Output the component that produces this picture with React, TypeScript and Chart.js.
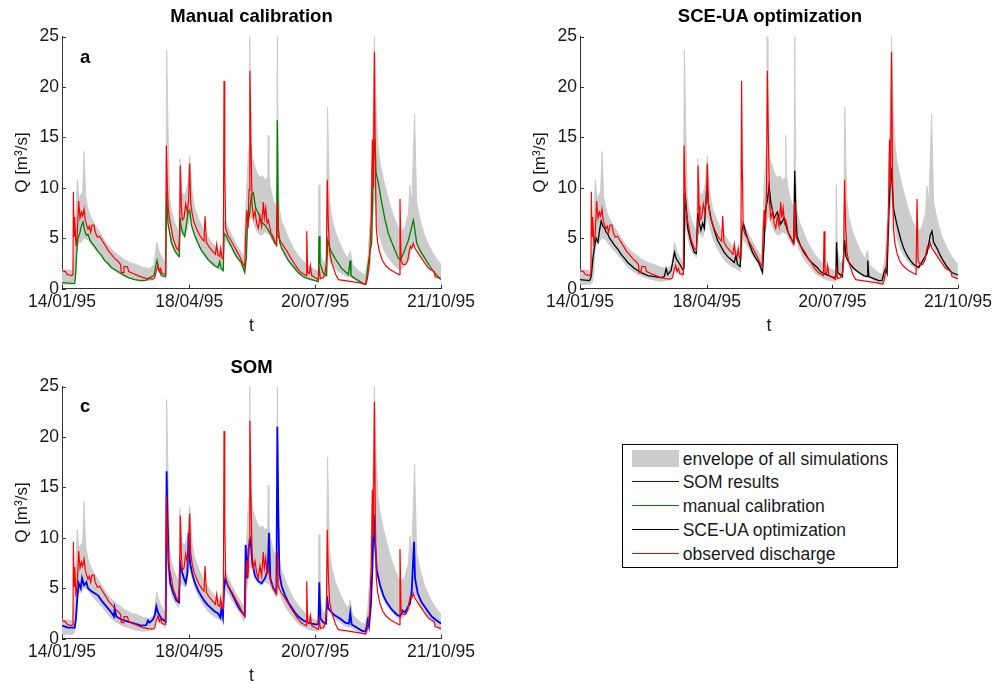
import React, { useEffect, useRef } from 'react';
import { Chart, registerables } from 'chart.js';
Chart.register(...registerables);

// x axis: days since 14/01/95
const tickDays = [0, 94, 187, 280];
const tickLabels = ['14/01/95', '18/04/95', '20/07/95', '21/10/95'];
const yTicks = [0, 5, 10, 15, 20, 25];

const legendLabels = ['envelope of all simulations', 'SOM results', 'manual calibration', 'SCE-UA optimization', 'observed discharge'];
const legendColors = ['#cccccc', '#0000ff', '#008000', '#000000', '#ff0000'];

// observed discharge [day, Q]
const observed: number[][] = [
  [0, 1.8], [2.5, 1.7], [4, 1.4], [7, 1.3], [8.1, 1.4], [8.4, 9.6], [8.9, 5.2], [9.4, 7.1], [10.3, 4.2], [11.3, 5.5],
  [12.3, 8.7], [13.3, 7.0], [14.3, 7.6], [15.3, 7.2], [16.3, 7.9], [17.2, 6.8], [18.2, 6.3], [19.2, 5.9], [20.2, 6.2],
  [21.2, 5.6], [22.2, 6.3], [23.6, 6.3], [24.6, 5.6], [26.1, 5.1], [27.8, 5.2], [29.1, 4.9], [31, 4.5], [32.8, 4.1],
  [34.5, 3.7], [36.5, 3.4], [38.9, 3.0], [41.4, 2.7], [43.3, 2.4], [43.8, 1.6], [45.1, 1.6], [45.8, 2.2], [48.3, 2.2],
  [49.3, 1.7], [52.5, 1.5], [56.2, 1.3], [59.9, 1.1], [63.5, 1.0], [67.2, 0.95], [68.5, 1.1], [69.7, 1.8], [70.9, 2.3],
  [71.9, 1.7], [72.9, 2.0], [73.9, 1.5], [76.6, 1.4], [77.1, 14.2], [77.8, 10.2], [78.6, 7.8], [79.6, 6.8], [80.8, 6.0],
  [82, 5.0], [83.3, 4.5], [84.7, 4.0], [86.2, 3.8], [86.9, 5.5], [87.4, 12.2], [88.2, 8.2], [88.9, 6.8], [90.1, 7.0],
  [91.4, 8.4], [92.6, 7.6], [93.6, 9.0], [94.3, 12.4], [95.1, 8.5], [96.1, 7.5], [97.5, 6.6], [99.3, 6.0], [101, 5.5],
  [103, 5.0], [104.9, 4.7], [105.7, 7.2], [106.7, 4.6], [108.4, 4.2], [110.8, 3.8], [113.3, 3.4], [114.3, 4.4],
  [115.3, 3.3], [116.5, 3.2], [117.2, 4.0], [118.2, 3.0], [119.2, 3.0], [119.7, 20.6], [120.2, 12.3], [120.9, 6.0],
  [122.2, 5.4], [123.9, 5.0], [126.4, 4.4], [128.8, 3.8], [131.3, 3.2], [133.3, 2.6], [135, 2.2], [135.7, 5.5],
  [136.5, 7.8], [137.4, 6.0], [138.2, 9.8], [138.8, 21.6], [139.6, 14.6], [140.4, 8.5], [141.4, 7.0], [142.6, 7.7],
  [143.8, 6.5], [145, 6.0], [146.3, 7.2], [147.5, 6.2], [148.7, 8.6], [149.5, 7.0], [150.5, 8.0], [151.5, 6.5],
  [152.4, 6.8], [153.4, 6.2], [154.4, 5.5], [155.9, 5.2], [157.4, 4.6], [158.4, 4.4], [159.1, 8.6], [159.8, 5.2],
  [161.8, 4.6], [164.3, 4.1], [166.7, 3.6], [169.2, 3.0], [171.7, 2.5], [174.1, 2.0], [176.6, 1.6], [179, 1.4],
  [180.3, 1.3], [180.8, 5.7], [181.5, 1.6], [182.7, 1.5], [183.5, 2.3], [184.5, 1.3], [186.9, 1.1], [189.4, 0.9],
  [190.1, 1.9], [190.9, 1.0], [193.1, 1.1], [194.3, 1.5], [195.3, 2.6], [196, 10.8], [196.8, 6.2], [197.8, 3.6],
  [199.2, 2.6], [200.7, 2.0], [202.2, 1.4], [204.2, 0.9], [209.1, 0.8], [214, 0.7], [219, 0.6], [222.6, 0.5],
  [224.4, 0.45], [225.6, 1.0], [227.1, 2.5], [228.5, 7.2], [229.3, 14.8], [230, 10.0], [230.8, 23.5], [231.5, 12.0],
  [232.2, 6.0], [233.2, 4.6], [234.7, 3.6], [236.7, 2.8], [239.1, 2.3], [242.3, 1.9], [246, 1.6], [249, 1.4],
  [249.7, 8.9], [250.5, 2.8], [252, 2.4], [253.9, 2.4], [255.4, 2.8], [256.4, 3.6], [257.4, 4.2], [258.4, 4.0],
  [259.6, 4.5], [260.8, 4.0], [262.8, 3.6], [265.2, 3.1], [268.2, 2.5], [271, 2.0], [275, 1.7], [275.6, 1.2], [280, 1.0],
];

// manual calibration [day, Q]
const manual: number[][] = [
  [0, 0.6], [9.4, 0.5], [10.1, 1.5], [10.8, 3.5], [11.8, 5.0], [13.1, 5.5], [14.3, 6.2], [15.5, 6.6], [16.7, 5.8],
  [18, 5.3], [19.2, 5.4], [20.4, 4.9], [21.7, 4.6], [24.1, 4.2], [26.6, 3.7], [29.1, 3.3], [31.5, 2.8], [34, 2.5],
  [36.5, 2.1], [38.9, 1.9], [43.8, 1.5], [48.8, 1.1], [53.7, 0.9], [58.6, 0.8], [62.3, 0.85], [64.8, 1.1], [68, 1.3],
  [69.2, 2.2], [70.2, 2.8], [71.4, 2.0], [73.4, 1.3], [76.6, 1.2], [77.3, 9.6], [78.3, 6.5], [79.6, 5.5], [80.8, 4.6],
  [83.3, 3.8], [85.7, 3.3], [86.7, 3.2], [87.2, 7.0], [88.2, 6.0], [89.4, 5.5], [90.6, 5.2], [91.9, 6.3], [93.1, 7.5],
  [94.3, 7.8], [95.6, 6.3], [98, 5.3], [100.5, 4.5], [103, 3.8], [105.4, 3.4], [107.9, 2.9], [110.3, 2.6], [112.8, 2.3],
  [115.3, 2.1], [116.5, 2.7], [117.7, 2.0], [119.2, 1.8], [119.7, 5.5], [121.4, 5.2], [122.7, 4.8], [125.1, 4.2],
  [127.6, 3.5], [130, 3.0], [132.5, 2.6], [135, 1.6], [136.2, 3.0], [136.9, 6.0], [138.7, 7.5], [139.9, 9.3],
  [141.4, 9.5], [143.1, 8.0], [145, 7.5], [147.5, 6.6], [150, 6.3], [152.4, 5.8], [154.9, 5.2], [157.4, 4.5],
  [158.6, 4.3], [159.1, 16.7], [159.8, 6.0], [161, 4.5], [162.3, 4.0], [164.8, 3.4], [167.2, 2.8], [169.7, 2.4],
  [172.1, 2.0], [174.6, 1.6], [177.1, 1.3], [179.5, 1.1], [184.5, 0.9], [189.4, 0.7], [189.9, 5.2], [190.6, 2.5],
  [193.1, 1.5], [195.5, 1.3], [196.3, 4.8], [198, 4.0], [199.2, 3.6], [201.7, 3.0], [204.2, 2.5], [206.6, 2.0],
  [209.1, 1.7], [211.6, 1.4], [212.8, 2.8], [213.5, 1.3], [216.5, 1.0], [219, 0.8], [222.6, 0.5], [224.4, 0.4],
  [225.8, 2.0], [227.6, 3.8], [228.8, 4.5], [230, 12.0], [231.3, 14.8], [232, 11.5], [233.7, 10.5], [236.2, 8.5],
  [238.7, 6.8], [241.1, 5.5], [243.6, 4.6], [246, 3.8], [248.5, 3.0], [250.2, 2.9], [252.2, 3.5], [255.9, 4.8],
  [259.6, 6.8], [262.1, 4.5], [264.5, 3.8], [268.2, 3.0], [271.9, 2.2], [275.6, 1.5], [280, 0.9],
];

// SCE-UA optimization [day, Q]
const sceua: number[][] = [
  [0, 0.9], [7.1, 0.8], [8.3, 1.2], [9.6, 3.0], [10.8, 4.2], [12, 5.0], [13.3, 4.6], [14.5, 5.8], [15.7, 6.7],
  [17, 6.2], [18.2, 6.0], [19.4, 5.6], [20.7, 5.4], [21.9, 5.0], [23.1, 4.8], [25.6, 4.3], [28.1, 3.9], [30.5, 3.4],
  [33, 3.0], [35.4, 2.6], [37.9, 2.3], [40.4, 2.0], [45.3, 1.6], [50.2, 1.3], [55.1, 1.2], [60.1, 1.1], [62.5, 1.2],
  [63.8, 2.0], [65, 1.4], [67.5, 1.8], [70, 3.6], [71.2, 3.0], [73.6, 2.5], [76.1, 1.9], [77.1, 2.0], [77.8, 9.5],
  [78.8, 8.0], [79.8, 6.0], [82.2, 4.6], [84.7, 3.6], [86.2, 3.5], [87.2, 7.5], [88.4, 6.5], [89.6, 5.8], [90.9, 6.5],
  [92.1, 6.0], [94.1, 10.5], [95, 8.5], [97, 7.0], [99.5, 5.8], [101.9, 4.8], [104.4, 4.2], [106.9, 3.6], [109.3, 3.2],
  [111.8, 2.9], [114.3, 2.6], [115.5, 3.3], [116.7, 2.4], [118.7, 2.2], [119.9, 5.8], [121.2, 6.4], [122.9, 5.5],
  [125.3, 4.5], [127.8, 3.6], [130.3, 3.0], [132.8, 2.5], [135.2, 1.6], [136.4, 4.5], [137.6, 8.0], [138.9, 8.8],
  [140.1, 10.2], [141.4, 8.5], [143.8, 7.0], [146.2, 7.6], [148.7, 6.4], [151.2, 7.0], [153.6, 5.8], [156.1, 5.0],
  [158.4, 4.6], [159.1, 11.7], [159.8, 8.0], [160.8, 5.2], [163.5, 4.2], [165.9, 3.6], [168.4, 3.1], [170.9, 2.7],
  [173.3, 2.4], [175.8, 2.1], [178.2, 1.7], [180.7, 1.5], [184.4, 1.3], [188.1, 1.1], [189.6, 1.2], [190.1, 4.6],
  [191, 1.6], [194.3, 1.2], [196, 4.8], [197, 3.2], [199.2, 2.6], [202.9, 2.0], [206.6, 1.6], [210.3, 1.3],
  [212.7, 1.2], [213.2, 2.8], [214, 1.2], [217.7, 1.0], [221.3, 0.8], [223.8, 0.8], [225, 1.5], [226.3, 2.0],
  [227.5, 1.5], [228.7, 7.3], [230.4, 12.0], [231.2, 10.5], [232.4, 7.8], [234.9, 6.3], [237.4, 5.0], [239.8, 4.0],
  [242.3, 3.3], [244.7, 2.8], [247.2, 2.4], [249.7, 2.2], [250.9, 2.1], [257.1, 3.5], [259.5, 5.3], [260.8, 5.7],
  [262, 4.6], [264.5, 4.0], [266.9, 3.3], [269.4, 2.7], [271.8, 2.2], [275.5, 1.6], [279.2, 1.4], [280, 1.4],
];

// SOM results [day, Q]
const somResults: number[][] = [
  [0, 1.3], [4.4, 1.1], [9.4, 1.1], [10.3, 2.0], [11.3, 4.0], [12.3, 5.5], [13.8, 5.0], [14.8, 6.0], [16.3, 5.3],
  [18, 5.6], [19.2, 5.0], [21.7, 4.7], [24.1, 4.5], [26.6, 4.3], [29.1, 3.8], [31.5, 3.4], [34, 3.0], [36.5, 2.6],
  [38.4, 2.2], [38.9, 3.0], [40.1, 2.2], [43.8, 1.9], [48.8, 1.7], [53.7, 1.5], [58.6, 1.3], [62.3, 1.35], [63.5, 1.8],
  [64.8, 1.6], [67.2, 1.9], [68.5, 2.3], [69.7, 3.2], [70.9, 2.6], [73.4, 2.0], [76.6, 1.7], [77.3, 16.6], [77.8, 13.0],
  [78.8, 7.5], [80, 5.5], [82, 4.6], [84.5, 3.8], [86.5, 3.6], [87.2, 7.5], [88.2, 6.8], [90.1, 6.0], [91.4, 5.5],
  [92.6, 6.5], [93.6, 10.5], [94.6, 7.5], [96.1, 6.5], [98, 5.6], [100.5, 4.8], [103, 4.2], [105.4, 3.7], [107.9, 3.3],
  [110.3, 3.0], [112.8, 2.7], [115.3, 2.5], [117, 2.1], [117.7, 3.0], [118.9, 2.1], [119.7, 4.9], [120.7, 6.0],
  [122.7, 5.2], [125.1, 4.6], [127.6, 3.9], [130, 3.2], [132.5, 2.7], [135, 2.3], [135.7, 9.3], [136.7, 6.0],
  [137.9, 9.0], [139.4, 9.8], [140.6, 7.5], [142.6, 6.2], [145, 5.7], [147.5, 5.5], [150, 6.0], [152, 6.8],
  [152.9, 10.5], [153.9, 6.0], [156.1, 5.0], [158.4, 4.6], [159.1, 21.0], [159.8, 12.8], [160.6, 6.5], [162.3, 5.2],
  [164.8, 4.3], [167.2, 3.6], [169.7, 3.1], [172.1, 2.6], [174.6, 2.2], [178.3, 1.8], [182, 1.6], [184.5, 1.5],
  [188.2, 1.4], [189.4, 1.5], [190.1, 5.6], [190.9, 2.0], [193.1, 1.6], [195.1, 1.5], [195.8, 4.2], [196.8, 3.0],
  [199.2, 2.6], [201.7, 2.3], [205.4, 2.0], [209.1, 1.6], [212, 1.5], [213, 2.6], [214, 1.4], [217.7, 1.1],
  [221.4, 0.8], [224.4, 0.7], [225.8, 1.8], [226.8, 1.2], [228.3, 3.5], [229.3, 7.0], [230.3, 12.3], [231.3, 9.5],
  [232.5, 6.8], [235, 5.3], [237.4, 4.3], [239.9, 3.6], [243.6, 2.9], [247.3, 2.4], [249.7, 2.2], [251.5, 2.8],
  [253.4, 2.6], [257.1, 3.5], [258.4, 4.8], [260.1, 9.6], [260.8, 6.0], [262.8, 4.5], [265.7, 3.6], [269.4, 2.9],
  [273.1, 2.2], [276.8, 1.8], [280, 1.5],
];

// envelope of all simulations [day, low, high]
const envelope: number[][] = [
  [0, 0.4, 1.9], [8, 0.4, 1.8], [8.4, 0.5, 3.0], [9.4, 0.6, 4.0], [10.5, 1.5, 8.0], [11.3, 3.5, 10.8], [12.5, 4.6, 9.0],
  [14, 4.5, 9.3], [15.3, 4.8, 9.6], [16.3, 5.0, 13.6], [17.5, 4.9, 9.2], [19, 4.8, 8.0], [21, 4.4, 7.2], [24, 3.9, 6.4],
  [27, 3.5, 5.8], [30, 3.0, 5.1], [33, 2.5, 4.5], [36, 2.0, 4.0], [40, 1.6, 3.5], [45, 1.2, 3.0], [50, 1.0, 2.6],
  [55, 0.8, 2.4], [60, 0.7, 2.1], [65, 0.8, 2.0], [68, 1.1, 2.4], [70, 2.0, 4.6], [72, 1.6, 3.6], [76.5, 1.0, 2.5],
  [77.3, 7.5, 23.7], [78.3, 6.0, 16.0], [79.5, 5.2, 9.0], [81, 4.2, 7.6], [83, 3.6, 6.6], [86.5, 3.0, 5.6],
  [87.2, 5.0, 12.9], [88.5, 5.5, 9.5], [91, 5.0, 9.3], [93, 6.0, 10.5], [94.3, 7.0, 13.2], [96, 6.0, 9.6], [98, 5.0, 8.0],
  [101, 4.1, 6.9], [104, 3.4, 6.0], [107, 2.8, 5.3], [110, 2.4, 4.7], [113, 2.1, 4.2], [116, 1.9, 3.8], [119, 1.6, 3.5],
  [119.7, 3.5, 6.8], [121, 4.8, 6.6], [125, 3.9, 5.4], [128, 3.2, 4.6], [131, 2.6, 3.9], [134.5, 1.6, 3.1],
  [136, 2.8, 8.5], [137.5, 5.8, 13.0], [138.2, 6.5, 14.0], [138.7, 7.0, 25], [139.2, 7.0, 14.5], [140.5, 7.0, 13.0],
  [142, 6.2, 12.3], [144, 5.6, 11.5], [146, 5.3, 11.0], [148, 5.3, 11.2], [150, 5.6, 10.8], [152, 5.4, 11.0],
  [152.4, 5.4, 15.2], [152.9, 5.4, 11.5], [154, 5.0, 10.0], [156, 4.6, 8.8], [158.5, 4.0, 8.0], [159.1, 4.5, 25],
  [159.7, 5.0, 12.0], [160.5, 4.8, 8.0], [162, 3.9, 6.8], [165, 3.1, 5.8], [168, 2.5, 4.8], [171, 2.0, 4.0],
  [174, 1.5, 3.4], [177, 1.2, 2.9], [180, 1.0, 2.5], [184, 0.8, 2.1], [189.4, 0.7, 1.7], [189.9, 2.5, 10.3],
  [190.5, 1.5, 4.0], [193, 1.0, 2.4], [195.2, 1.0, 3.0], [196.2, 3.5, 18.0], [197.5, 2.8, 9.0], [199, 2.4, 7.2],
  [202, 1.9, 5.6], [205, 1.6, 4.6], [208, 1.3, 3.7], [211, 1.1, 3.0], [213, 1.1, 3.8], [214.5, 1.0, 2.4],
  [217.5, 0.8, 2.0], [221, 0.5, 1.6], [224, 0.35, 1.4], [226, 0.8, 3.0], [228, 2.5, 7.5], [229.5, 6.0, 15.5],
  [230.8, 9.0, 25], [232, 6.8, 18.0], [233.5, 5.6, 14.0], [235, 4.8, 12.5], [237.5, 3.8, 10.8], [240, 3.2, 9.5],
  [243, 2.7, 8.0], [246, 2.2, 6.8], [249, 1.9, 5.9], [250.5, 1.9, 5.8], [253, 2.2, 6.0], [256, 2.8, 7.5],
  [257, 3.0, 10.2], [258.5, 4.2, 8.5], [260.5, 4.6, 17.3], [262, 4.0, 8.5], [265, 3.2, 6.6], [268, 2.6, 5.2],
  [271, 2.0, 4.3], [274, 1.6, 3.5], [277, 1.1, 2.9], [280, 0.8, 2.4],
];

const FONT = "'Liberation Sans', Arial, Helvetica, sans-serif";
const TEXT = '#1a1a1a';
const AXIS = '#333333';
const GRAY = '#cccccc';

const inwardTicks = {
  id: 'inwardTicks',
  afterDraw(chart: any) {
    const { ctx, chartArea, scales } = chart;
    ctx.save();
    ctx.strokeStyle = AXIS;
    ctx.lineWidth = 1;
    scales.x.ticks.forEach((t: any) => {
      const px = Math.round(scales.x.getPixelForValue(t.value)) + 0.5;
      ctx.beginPath();
      ctx.moveTo(px, chartArea.bottom);
      ctx.lineTo(px, chartArea.bottom - 4);
      ctx.stroke();
    });
    scales.y.ticks.forEach((t: any) => {
      const py = Math.round(scales.y.getPixelForValue(t.value)) + 0.5;
      ctx.beginPath();
      ctx.moveTo(chartArea.left, py);
      ctx.lineTo(chartArea.left + 4, py);
      ctx.stroke();
    });
    ctx.restore();
  },
};

type PanelProps = {
  left: number; top: number; width: number; height: number; padRight: number;
  sim: number[][]; simColor: string; simWidth: number;
};

function Panel({ left, top, width, height, padRight, sim, simColor, simWidth }: PanelProps) {
  const ref = useRef<HTMLCanvasElement>(null);
  useEffect(() => {
    const tickFont = { family: FONT, size: 17.5 };
    const chart = new Chart(ref.current as HTMLCanvasElement, {
      type: 'line',
      data: {
        datasets: [
          { data: observed.map(([x, y]) => ({ x, y })), borderColor: '#ff0000', borderWidth: 1.2, fill: false, pointRadius: 0 },
          { data: sim.map(([x, y]) => ({ x, y })), borderColor: simColor, borderWidth: simWidth, fill: false, pointRadius: 0 },
          { data: envelope.map(([x, , hi]) => ({ x, y: hi })), borderColor: GRAY, borderWidth: 1, backgroundColor: GRAY, fill: '+1', pointRadius: 0 },
          { data: envelope.map(([x, lo]) => ({ x, y: lo })), borderColor: 'rgba(0,0,0,0)', borderWidth: 0, fill: false, pointRadius: 0 },
        ],
      } as any,
      options: {
        animation: false,
        responsive: false,
        maintainAspectRatio: false,
        devicePixelRatio: 1,
        layout: { padding: { top: 36.5, left: 8, right: padRight, bottom: 1.3 } },
        elements: { point: { radius: 0 }, line: { tension: 0 } },
        plugins: { legend: { display: false }, tooltip: { enabled: false }, title: { display: false } },
        scales: {
          x: {
            type: 'linear', min: 0, max: 280,
            afterBuildTicks: (s: any) => { s.ticks = tickDays.map((v) => ({ value: v })); },
            afterFit: (s: any) => { s.height = 52; },
            ticks: {
              font: tickFont, color: TEXT, padding: 3, maxRotation: 0, autoSkip: false,
              callback: (v: any) => tickLabels[tickDays.indexOf(Number(v))] ?? '',
            },
            grid: { display: false, drawTicks: false },
            border: { display: true, color: AXIS, width: 1 },
            title: { display: true, text: 't', font: tickFont, color: TEXT, padding: { top: 4, bottom: 4 } },
          },
          y: {
            min: 0, max: 25,
            afterBuildTicks: (s: any) => { s.ticks = yTicks.map((v) => ({ value: v })); },
            afterFit: (s: any) => { s.width = 54; },
            ticks: { font: tickFont, color: TEXT, padding: 3 },
            grid: { display: false, drawTicks: false },
            border: { display: true, color: AXIS, width: 1 },
            title: { display: true, text: 'Q [m³/s]', font: { family: FONT, size: 17 }, color: TEXT, padding: { top: 4, bottom: 4 } },
          },
        },
      } as any,
      plugins: [inwardTicks],
    });
    return () => chart.destroy();
  }, []);
  return (
    <canvas ref={ref} width={width} height={height}
      style={{ position: 'absolute', left, top, width, height }} />
  );
}

const titleStyle = (left: number, top: number, width: number): React.CSSProperties => ({
  position: 'absolute', left, top, width, textAlign: 'center', fontFamily: FONT,
  fontWeight: 'bold', fontSize: 18.5, lineHeight: '22px', color: '#000', whiteSpace: 'nowrap',
});

const letterStyle = (left: number, top: number): React.CSSProperties => ({
  position: 'absolute', left, top, fontFamily: FONT, fontWeight: 'bold', fontSize: 18.5,
  lineHeight: '22px', color: '#000',
});

export default function App() {
  const rowH = 23.95;
  return (
    <div style={{ position: 'fixed', left: 0, top: 0, width: 995, height: 684, background: '#fff', overflow: 'hidden', fontFamily: FONT }}>
      <Panel left={0} top={0} width={480} height={342} padRight={39} sim={manual} simColor="#008000" simWidth={1.3} />
      <Panel left={518} top={0} width={477} height={342} padRight={35} sim={sceua} simColor="#000000" simWidth={1.3} />
      <Panel left={0} top={350} width={480} height={342} padRight={39} sim={somResults} simColor="#0000ff" simWidth={1.8} />

      <div style={titleStyle(62, 5.3, 379)}>Manual calibration</div>
      <div style={titleStyle(580, 5.3, 380)}>SCE-UA optimization</div>
      <div style={titleStyle(62, 355.6, 379)}>SOM</div>
      <div style={letterStyle(80, 45.9)}>a</div>
      <div style={letterStyle(80, 394.9)}>c</div>

      <div style={{ position: 'absolute', left: 622, top: 444, width: 276, height: 124, border: '1px solid #000', boxSizing: 'border-box', background: '#fff' }}>
        {legendLabels.map((lab, i) => {
          const cy = Math.round(12.5 + i * rowH);
          return (
            <React.Fragment key={lab}>
              {i === 0 ? (
                <div style={{ position: 'absolute', left: 9, top: cy - 8, width: 47, height: 17, background: legendColors[i] }} />
              ) : (
                <div style={{ position: 'absolute', left: 9, top: cy, width: 47, height: 0, borderTop: '1px solid ' + legendColors[i] }} />
              )}
              <div style={{ position: 'absolute', left: 59.7, top: cy - 9.6, fontSize: 17.5, lineHeight: '22px', color: TEXT, whiteSpace: 'nowrap' }}>{lab}</div>
            </React.Fragment>
          );
        })}
      </div>
    </div>
  );
}
